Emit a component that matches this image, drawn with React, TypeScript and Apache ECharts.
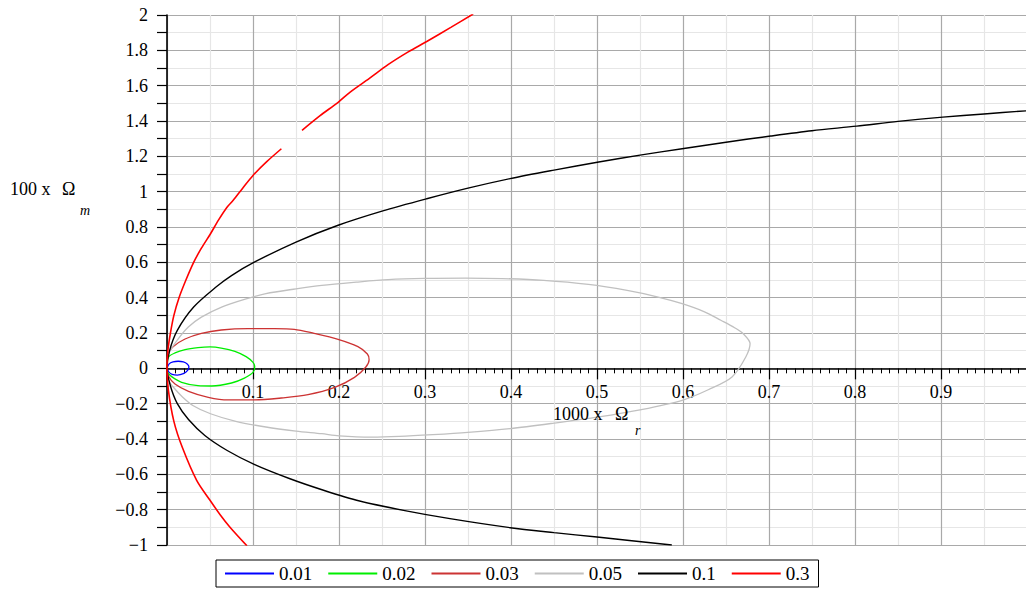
import React, { useEffect, useRef } from 'react';
import * as echarts from 'echarts';

// ---------- data (x = 1000 x Omega_r, y = 100 x Omega_m) ----------
const seriesNames = ['0.01', '0.02', '0.03', '0.05', '0.1', '0.3'];
const seriesColors = ['#0000ff', '#00ee00', '#cc3333', '#c0c0c0', '#000000', '#ff0000'];
const seriesWidths = [1.3, 1.3, 1.3, 1.3, 1.4, 1.6];

const curve001: (number[] | null)[] = [
  [0, 0], [0.0025, 0.025], [0.007, 0.036], [0.013, 0.04], [0.019, 0.036], [0.0235, 0.025],
  [0.0255, 0.009], [0.024, -0.012], [0.019, -0.03], [0.012, -0.038], [0.006, -0.034],
  [0.002, -0.02], [0, 0],
];

const curve002: (number[] | null)[] = [
  [0, 0], [0.0015, 0.062], [0.0093, 0.087], [0.021, 0.106], [0.036, 0.117], [0.05, 0.121],
  [0.063, 0.115], [0.079, 0.096], [0.092, 0.066], [0.1, 0.034], [0.102, 0.011], [0.1, -0.023],
  [0.09, -0.055], [0.075, -0.083], [0.052, -0.1], [0.036, -0.098], [0.017, -0.079],
  [0.0054, -0.047], [0.0008, -0.023], [0, 0],
];

const curve003: (number[] | null)[] = [
  [0, 0], [0.0008, 0.072], [0.0073, 0.123], [0.021, 0.166], [0.04, 0.198], [0.063, 0.217],
  [0.094, 0.225], [0.125, 0.225], [0.148, 0.221], [0.171, 0.198], [0.198, 0.166],
  [0.222, 0.123], [0.233, 0.081], [0.235, 0.049], [0.231, 0.006], [0.218, -0.051],
  [0.195, -0.108], [0.164, -0.149], [0.133, -0.168], [0.102, -0.179], [0.071, -0.179],
  [0.048, -0.164], [0.025, -0.13], [0.0093, -0.089], [0.0015, -0.042], [0, 0],
];

const curve005: (number[] | null)[] = [
  [0, 0], [0.002, 0.083], [0.012, 0.16], [0.0248, 0.234], [0.04, 0.29], [0.0635, 0.347],
  [0.09, 0.39], [0.115, 0.423], [0.15, 0.45], [0.18, 0.47], [0.22, 0.488], [0.257, 0.502],
  [0.3, 0.509], [0.347, 0.511], [0.39, 0.508], [0.438, 0.498], [0.49, 0.475], [0.535, 0.441],
  [0.57, 0.405], [0.599, 0.366], [0.625, 0.32], [0.644, 0.272], [0.66, 0.23], [0.67, 0.196],
  [0.678, 0.14], [0.673, 0.064], [0.657, -0.049], [0.63, -0.12], [0.599, -0.181],
  [0.55, -0.235], [0.502, -0.275], [0.45, -0.31], [0.399, -0.341], [0.35, -0.362],
  [0.309, -0.375], [0.27, -0.385], [0.238, -0.389], [0.2, -0.382], [0.18, -0.37],
  [0.15, -0.355], [0.115, -0.332], [0.08, -0.3], [0.0506, -0.257], [0.03, -0.21],
  [0.018, -0.162], [0.008, -0.11], [0.002, -0.068], [0, 0],
];

const curve01: (number[] | null)[] = [
  [0.587, -1.0], [0.5, -0.955], [0.45, -0.93], [0.399, -0.902], [0.329, -0.851],
  [0.275, -0.804], [0.224, -0.751], [0.182, -0.69], [0.143, -0.625], [0.102, -0.545],
  [0.07, -0.465], [0.044, -0.38], [0.025, -0.29], [0.012, -0.2], [0.004, -0.1], [0, 0],
  [0.003, 0.1], [0.012, 0.215], [0.031, 0.347], [0.057, 0.46], [0.075, 0.525], [0.102, 0.602],
  [0.15, 0.715], [0.199, 0.81], [0.25, 0.89], [0.302, 0.96], [0.35, 1.02], [0.399, 1.074],
  [0.45, 1.122], [0.502, 1.168], [0.55, 1.207], [0.599, 1.243], [0.65, 1.28], [0.702, 1.315],
  [0.75, 1.345], [0.802, 1.371], [0.85, 1.398], [0.902, 1.422], [0.95, 1.44], [1.0, 1.458],
];

const curve03: (number[] | null)[] = [
  [0.093, -1.005], [0.073, -0.898], [0.062, -0.83], [0.05, -0.747], [0.0345, -0.634],
  [0.018, -0.45], [0.008, -0.3], [0.0015, -0.12], [0, 0],
  [0.001, 0.1], [0.004, 0.2], [0.008, 0.3], [0.014, 0.4], [0.022, 0.5], [0.031, 0.6],
  [0.04, 0.68], [0.0506, 0.762], [0.06, 0.84], [0.07, 0.913], [0.077, 0.951], [0.088, 1.02],
  [0.1, 1.092], [0.116, 1.17], [0.133, 1.243], null,
  [0.157, 1.347], [0.178, 1.43], [0.199, 1.506], [0.213, 1.564], [0.235, 1.64],
  [0.257, 1.719], [0.28, 1.79], [0.302, 1.85], [0.33, 1.93], [0.356, 2.006],
];

const seriesData = [curve001, curve002, curve003, curve005, curve01, curve03];

const xLabelValues = [0.1, 0.2, 0.3, 0.4, 0.5, 0.6, 0.7, 0.8, 0.9];
const yLabelValues = [-1, -0.8, -0.6, -0.4, -0.2, 0, 0.2, 0.4, 0.6, 0.8, 1, 1.2, 1.4, 1.6, 1.8, 2];
const yMin = -1;
const yMax = 2;

const xTitle = ['1000 x', 'Ω', 'r'];
const yTitle = ['100 x', 'Ω', 'm'];

const FONT = '"Liberation Serif", "Times New Roman", serif';

const GRID_TOP = 15;
const GRID_H = 530;

function fmtNum(v: number): string {
  const s = String(Math.round(v * 10) / 10);
  return s.replace('-', '\u2212');
}

export default function App() {
  const ref = useRef<HTMLDivElement>(null);
  useEffect(() => {
    if (!ref.current) return;
    const chart = echarts.init(ref.current, undefined, { renderer: 'svg' });
    const major = '#a9a9a9';
    const minor = '#e6e6e6';
    // distance from the grid bottom up to the y = 0 line
    const zeroOffset = -GRID_H * (0 - yMin) / (yMax - yMin);
    chart.setOption({
      animation: false,
      backgroundColor: '#ffffff',
      grid: { left: 167, top: GRID_TOP, width: 860, height: GRID_H, containLabel: false, outerBoundsMode: 'none' },
      xAxis: [
        {
          type: 'value', min: 0, max: 1, interval: 0.05, position: 'top',
          axisLine: { show: false, onZero: false }, axisTick: { show: false }, axisLabel: { show: false },
          splitLine: { show: true, lineStyle: { color: [major, minor], width: 1.2 } },
        },
        {
          type: 'value', min: 0, max: 1, interval: 0.1, position: 'bottom',
          offset: zeroOffset,
          axisLine: { show: true, onZero: false, lineStyle: { color: '#000', width: 1.6 } },
          axisTick: { show: true, inside: false, length: 11, lineStyle: { color: '#000', width: 1.2 } },
          minorTick: { show: true, splitNumber: 10, length: 5, lineStyle: { color: '#000', width: 1 } },
          splitLine: { show: false },
          axisLabel: {
            show: true, margin: 15, color: '#000', fontFamily: FONT, fontSize: 18,
            showMinLabel: true, showMaxLabel: true,
            formatter: (v: number) => {
              const m = xLabelValues.find((t) => Math.abs(t - v) < 1e-6);
              return m === undefined ? '' : fmtNum(m);
            },
          },
        },
      ],
      yAxis: {
        type: 'value', min: yMin, max: yMax, interval: 0.1,
        axisLine: { show: true, onZero: false, lineStyle: { color: '#000', width: 1.6 } },
        axisTick: { show: true, inside: false, length: 10, lineStyle: { color: '#000', width: 1.2 } },
        splitLine: { show: true, lineStyle: { color: [major, minor], width: 1.2 } },
        axisLabel: {
          show: true, margin: 19, color: '#000', fontFamily: FONT, fontSize: 18,
          showMinLabel: true, showMaxLabel: true,
          formatter: (v: number) => {
            const m = yLabelValues.find((t) => Math.abs(t - v) < 1e-6);
            return m === undefined ? '' : fmtNum(m);
          },
        },
      },
      legend: {
        data: seriesNames,
        left: 216, top: 560, orient: 'horizontal',
        icon: 'rect',
        itemWidth: 49, itemHeight: 2, itemGap: 16,
        padding: [4, 9, 4, 9],
        borderColor: '#000', borderWidth: 1, borderRadius: 0, backgroundColor: '#fff',
        textStyle: { fontFamily: FONT, fontSize: 19, color: '#000' },
      },
      graphic: [
        { type: 'text', left: 10, top: 180, z: 10, style: { text: yTitle[0], font: `18px ${FONT}`, fill: '#000' } },
        { type: 'text', left: 62, top: 180, z: 10, style: { text: yTitle[1], font: `18px ${FONT}`, fill: '#000' } },
        { type: 'text', left: 80, top: 203, z: 10, style: { text: yTitle[2], font: `italic 14px ${FONT}`, fill: '#000' } },
        { type: 'text', left: 553, top: 405, z: 10, style: { text: xTitle[0], font: `18px ${FONT}`, fill: '#000' } },
        { type: 'text', left: 615, top: 405, z: 10, style: { text: xTitle[1], font: `18px ${FONT}`, fill: '#000' } },
        { type: 'text', left: 635, top: 423, z: 10, style: { text: xTitle[2], font: `italic 14px ${FONT}`, fill: '#000' } },
      ],
      series: seriesNames.map((name, i) => ({
        name,
        type: 'line',
        xAxisIndex: 0,
        data: seriesData[i].map((p) => (p === null ? ['-', '-'] : p)),
        showSymbol: false,
        symbol: 'none',
        smooth: 0.3,
        connectNulls: false,
        clip: true,
        lineStyle: { color: seriesColors[i], width: seriesWidths[i] },
        itemStyle: { color: seriesColors[i] },
      })),
    });
    return () => chart.dispose();
  }, []);
  return (
    <div
      ref={ref}
      style={{ position: 'absolute', left: 0, top: 0, width: 1026, height: 589, background: '#fff' }}
    />
  );
}
